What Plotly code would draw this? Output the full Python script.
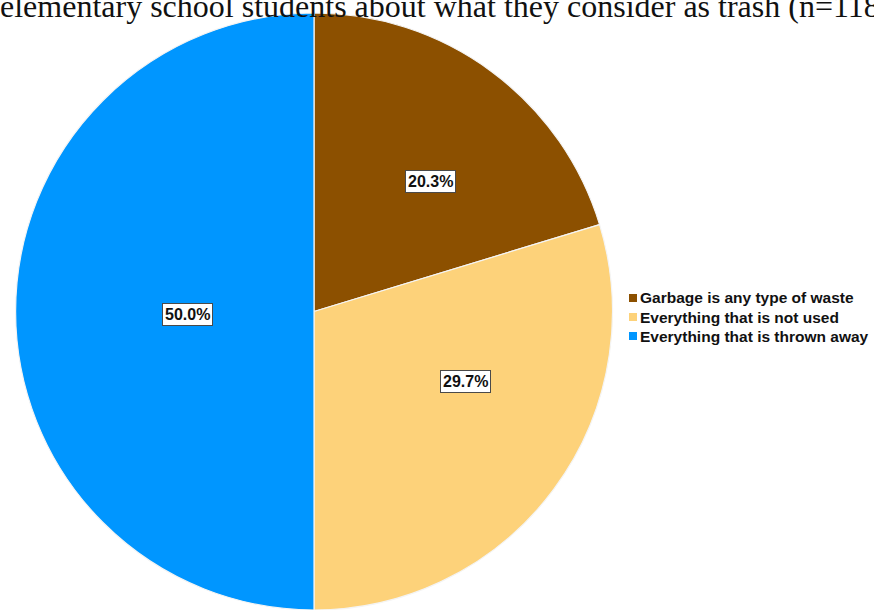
import plotly.graph_objects as go

# Survey responses: what elementary school students consider as trash
categories = ["Garbage is any type of waste",
              "Everything that is not used",
              "Everything that is thrown away"]
shares = [20.3, 29.7, 50.0]
colors = ["#8C5000", "#FDD27A", "#0096FF"]

W, H = 874, 610

fig = go.Figure(go.Pie(
    labels=categories,
    values=shares,
    sort=False,
    direction="clockwise",
    rotation=0,
    marker=dict(colors=colors, line=dict(color="#F4F4F4", width=1.2)),
    textinfo="none",
    hoverinfo="label+percent",
    showlegend=False,
    domain=dict(x=[14 / W, 614 / W], y=[0.0, 1 - 13 / H]),
))

# Boxed percentage labels inside each slice (pixel centres of the boxes)
label_px = [(430, 170), (466, 381), (162, 314)]
for val, (px, py) in zip(shares, label_px):
    fig.add_annotation(
        x=px / W, y=1 - py / H, xref="paper", yref="paper",
        text=f"{val:.1f}%", showarrow=False,
        font=dict(family="Liberation Sans, Arial, sans-serif", size=16,
                  color="#111111", weight="bold"),
        bgcolor="white", bordercolor="#4A4A4A", borderwidth=1, borderpad=2,
    )

# Compact legend: coloured squares with bold labels
leg_x, leg_y0, leg_dy = 629, 298, 19
for i, (name, col) in enumerate(zip(categories, colors)):
    cy = leg_y0 + i * leg_dy
    fig.add_shape(
        type="rect", xref="paper", yref="paper",
        x0=leg_x / W, x1=(leg_x + 8) / W,
        y0=1 - (cy + 4) / H, y1=1 - (cy - 4) / H,
        fillcolor=col, line=dict(width=0),
    )
    fig.add_annotation(
        x=(leg_x + 9) / W, y=1 - cy / H, xref="paper", yref="paper",
        xanchor="left", yanchor="middle", text=name, showarrow=False,
        font=dict(family="Liberation Sans, Arial, sans-serif", size=15.5,
                  color="#111111", weight="bold"),
    )

# Figure caption running off the top edge
fig.add_annotation(
    x=-2 / W, y=1, xref="paper", yref="paper", xanchor="left", yanchor="bottom",
    yshift=-26,
    text="elementary school students about what they consider as trash (n=118)",
    showarrow=False,
    font=dict(family="Liberation Serif, Times New Roman, serif", size=32,
              color="#111111"),
)

fig.update_layout(
    width=W, height=H,
    margin=dict(l=0, r=0, t=0, b=0),
    paper_bgcolor="white",
    plot_bgcolor="white",
)

fig.write_html("out.html")
